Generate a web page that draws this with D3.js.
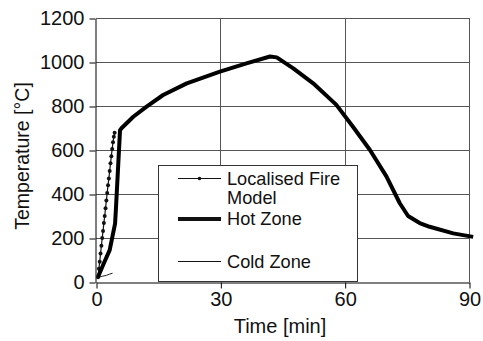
<!DOCTYPE html>
<html>
<head>
<meta charset="utf-8">
<script src="https://cdn.jsdelivr.net/npm/d3@7"></script>
<style>
  body { margin: 0; background: #fff; }
  text { font-family: "Liberation Sans", Arial, sans-serif; }
</style>
</head>
<body>
<svg id="chart" width="483" height="341"></svg>
<script>
// ---- data ----
const xTicks = [0, 30, 60, 90];
const yTicks = [0, 200, 400, 600, 800, 1000, 1200];

const hotTime = [0.5, 2, 3.3, 4.6, 4.8, 5.8, 6.2, 9, 12.2, 16.2, 21.9, 29.9, 36.3, 42, 43.6, 47.6, 52.4, 58, 62, 66.1, 70.1, 73.3, 75.3, 78.1, 80.5, 86.2, 91];
const hotTemp = [24, 90, 145, 265, 330, 690, 700, 751, 797, 850, 903, 956, 994, 1025, 1021, 971, 903, 805, 706, 600, 479, 358, 300, 268, 251, 221, 205];

const fireTime = [0.5, 0.7, 0.9, 1.1, 1.3, 1.5, 1.7, 1.9, 2.1, 2.3, 2.5, 2.7, 2.9, 3.1, 3.3, 3.5, 3.7, 3.9, 4.1, 4.3, 4.5];
const fireTemp = [22, 60, 92, 130, 165, 200, 232, 268, 300, 335, 370, 405, 440, 470, 505, 540, 572, 605, 635, 660, 678];

const coldTime = [0.5, 1.5, 2.5, 3.3, 4.0];
const coldTemp = [22, 26, 30, 36, 40];

const legendLabels = [["Localised Fire", "Model"], ["Hot Zone"], ["Cold Zone"]];

// ---- chart ----
const svg = d3.select("#chart");
const x = d3.scaleLinear().domain([0, 90]).range([96, 469]);
const y = d3.scaleLinear().domain([0, 1200]).range([282, 18]);

// gridlines
svg.append("g").selectAll("line").data(yTicks.filter(d => d > 0)).join("line")
  .attr("x1", x(0)).attr("x2", x(90))
  .attr("y1", d => Math.round(y(d)) + 0.5).attr("y2", d => Math.round(y(d)) + 0.5)
  .attr("stroke", "#555").attr("stroke-width", 1);
svg.append("g").selectAll("line").data(xTicks.filter(d => d > 0)).join("line")
  .attr("x1", d => Math.round(x(d)) + 0.5).attr("x2", d => Math.round(x(d)) + 0.5)
  .attr("y1", y(0)).attr("y2", y(1200))
  .attr("stroke", "#555").attr("stroke-width", 1);

// axes
const fmt = d3.format("d");
const yAxis = svg.append("g").attr("transform", "translate(95.5,0.5)")
  .call(d3.axisLeft(y).tickValues(yTicks).tickFormat(fmt).tickSize(6).tickSizeOuter(0).tickPadding(5));
const xAxis = svg.append("g").attr("transform", "translate(0.5," + (y(0) + 0.5) + ")")
  .call(d3.axisBottom(x).tickValues(xTicks).tickFormat(fmt).tickSize(6).tickSizeOuter(0).tickPadding(3));
[yAxis, xAxis].forEach(g => {
  g.selectAll("path,line").attr("stroke", "#000");
  g.selectAll("text").attr("font-size", 20).attr("fill", "#111")
    .attr("font-family", "'Liberation Sans', Arial, sans-serif");
});

// axis titles
svg.append("text").attr("x", 280).attr("y", 333).attr("text-anchor", "middle")
  .attr("font-size", 20).attr("fill", "#111").text("Time [min]");
svg.append("text").attr("transform", "translate(29,156) rotate(-90)")
  .attr("text-anchor", "middle").attr("font-size", 19.5).attr("fill", "#111")
  .text("Temperature [°C]");

const line = d3.line().x(d => x(d[0])).y(d => y(d[1]));

// cold zone
svg.append("path").datum(coldTime.map((t, i) => [t, coldTemp[i]]))
  .attr("d", line).attr("fill", "none").attr("stroke", "#222").attr("stroke-width", 1);

// localised fire
const fireData = fireTime.map((t, i) => [t, fireTemp[i]]);
svg.append("path").datum(fireData).attr("d", line)
  .attr("fill", "none").attr("stroke", "#111").attr("stroke-width", 1.2);
svg.append("g").selectAll("circle").data(fireData).join("circle")
  .attr("cx", d => x(d[0])).attr("cy", d => y(d[1])).attr("r", 2).attr("fill", "#111");

// hot zone
svg.append("path").datum(hotTime.map((t, i) => [t, hotTemp[i]]))
  .attr("d", line).attr("fill", "none")
  .attr("stroke", "#000").attr("stroke-width", 4).attr("stroke-linejoin", "round");

// legend
const lg = svg.append("g");
lg.append("rect").attr("x", 158.5).attr("y", 165.5).attr("width", 199).attr("height", 116)
  .attr("fill", "#fff").attr("stroke", "#333").attr("stroke-width", 1);
const rowsY = [178.5, 219, 261.5];
const styles = [{w: 1.2, dot: true}, {w: 4, dot: false}, {w: 1, dot: false}];
legendLabels.forEach((labels, i) => {
  lg.append("line").attr("x1", 178).attr("x2", 221).attr("y1", rowsY[i]).attr("y2", rowsY[i])
    .attr("stroke", "#111").attr("stroke-width", styles[i].w);
  if (styles[i].dot) lg.append("circle").attr("cx", 199.5).attr("cy", rowsY[i]).attr("r", 1.8).attr("fill", "#111");
  labels.forEach((lab, j) => {
    lg.append("text").attr("x", 227).attr("y", rowsY[i] + 6 + j * 19)
      .attr("font-size", 18.2).attr("fill", "#111").text(lab);
  });
});
</script>
</body>
</html>
